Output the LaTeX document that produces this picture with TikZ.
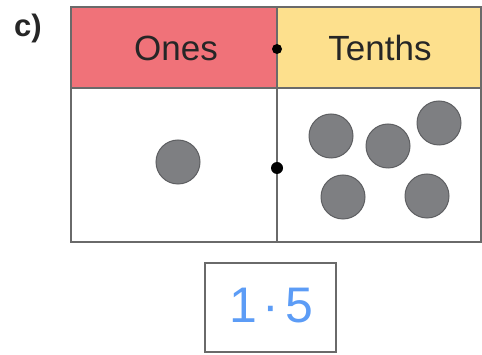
\documentclass[tikz,border=0pt]{standalone}
\usepackage{fontspec}
\setmainfont{Liberation Sans}
\definecolor{onesred}{HTML}{F07279}
\definecolor{tenthyel}{HTML}{FDE08D}
\definecolor{gridgray}{HTML}{6A6A6A}
\definecolor{ctrgray}{HTML}{7E7F82}
\definecolor{ctredge}{HTML}{5E5F62}
\definecolor{penblue}{HTML}{5C9CF6}
\definecolor{txt}{HTML}{262626}
\begin{document}
\begin{tikzpicture}[x=1pt,y=-1pt,
  gridline/.style={draw=gridgray,line width=2.4pt},
  counter/.style={circle,fill=ctrgray,draw=ctredge,line width=1pt,minimum size=44pt,inner sep=0pt},
  pointdot/.style={circle,fill=black,inner sep=0pt},
  head/.style={font=\fontsize{35}{40}\selectfont,text=txt}]
\useasboundingbox (0,0) rectangle (482,355);
% header fills
\fill[onesred] (71,7) rectangle (277,88);
\fill[tenthyel] (277,7) rectangle (481,88);
% grid
\draw[gridline] (71,7) rectangle (481,242);
\draw[gridline] (71,88) -- (481,88);
\draw[gridline] (277,7) -- (277,242);
% labels
\node[font=\bfseries\fontsize{31}{34}\selectfont,text=txt] (lab) at (28,28) {c)};
\node[head] (ones) at (176,48) {Ones};
\node[head] (tenths) at (380,48) {Tenths};
% decimal points
\node[pointdot,minimum size=10pt] (dp1) at (277,49) {};
\node[pointdot,minimum size=12pt] (dp2) at (277,168) {};
% counters
\node[counter] (c0) at (178,162) {};
\node[counter] (t1) at (331,136) {};
\node[counter] (t2) at (388,146) {};
\node[counter] (t3) at (439,123) {};
\node[counter] (t4) at (343,197) {};
\node[counter] (t5) at (427,196) {};
% answer box
\draw[gridline,line width=2.2pt] (205,263) rectangle (336,352);
\node[anchor=base west,inner sep=0pt,font=\fontsize{50}{56}\selectfont,text=penblue] (ans) at (229,323) {1\kern5pt·\kern6.5pt5};
\end{tikzpicture}
\end{document}
